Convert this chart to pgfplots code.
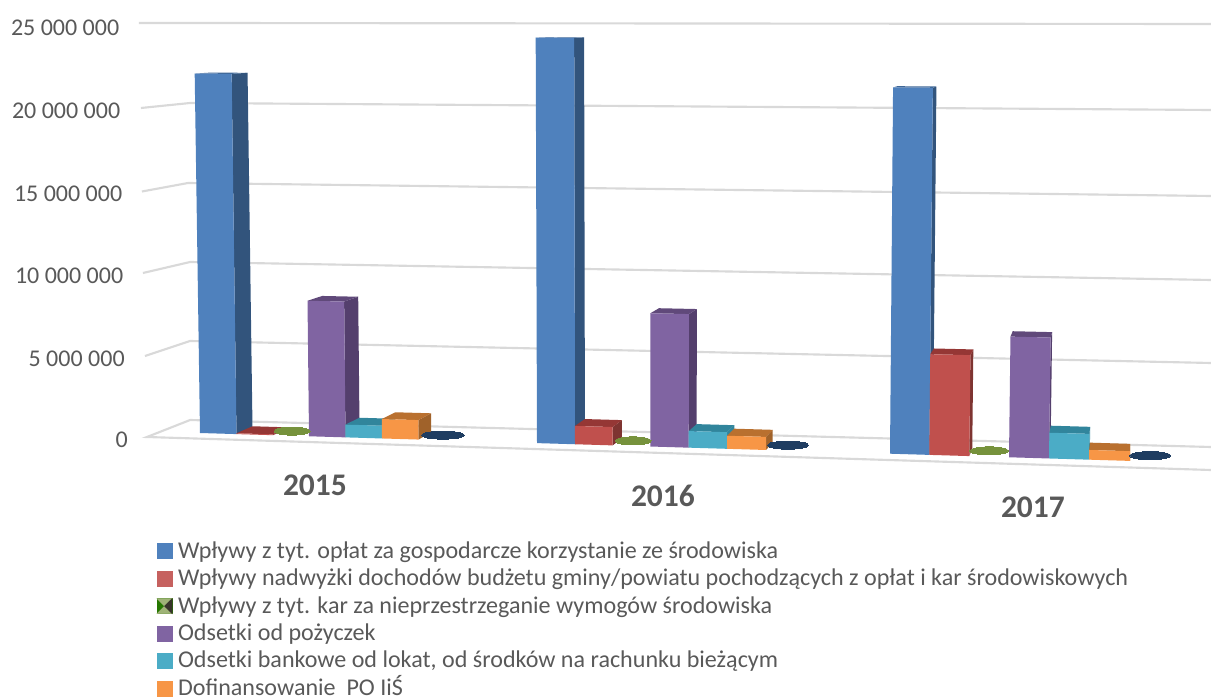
\documentclass[border=0pt]{standalone}
\usepackage{fontspec}
\setmainfont{Carlito}
\usepackage{pgfplots}
\pgfplotsset{compat=1.18}
\definecolor{txt}{HTML}{595959}
\definecolor{gridc}{HTML}{D9D9D9}
\definecolor{blueF}{HTML}{4F81BD}\definecolor{blueS}{HTML}{32547C}\definecolor{blueT}{HTML}{3F6797}
\definecolor{redF}{HTML}{C0504D}\definecolor{redS}{HTML}{7E3431}\definecolor{redT}{HTML}{953735}
\definecolor{greenF}{HTML}{76923C}
\definecolor{purpF}{HTML}{8064A2}\definecolor{purpS}{HTML}{543F6D}\definecolor{purpT}{HTML}{60497A}
\definecolor{cyanF}{HTML}{4BACC6}\definecolor{cyanS}{HTML}{31859C}\definecolor{cyanT}{HTML}{31859C}
\definecolor{orF}{HTML}{F79646}\definecolor{orS}{HTML}{A0622A}\definecolor{orT}{HTML}{B9702F}
\definecolor{navyF}{HTML}{1F3D61}

% picture units: 1 image pixel = 0.75pt; back points lean towards the chart's vanishing point
\newcommand{\cpt}[4]{%
  \pgfmathsetmacro\tx{#1+0.00055*(#1-640)*#3+#2*0.0178*(1130-#1)}%
  \pgfmathsetmacro\td{#3*(16.4+0.00102*(\tx-190)-16.5)+#2*(7.5-0.29*#3)}%
  \edef#4{(\tx,\td,#3)}}
% left edge, width, value in millions, colours of front, side, top
\newcommand{\cbar}[6]{%
  \pgfmathsetmacro\xr{#1+#2}%
  \cpt{#1}{0}{0}\pa \cpt{\xr}{0}{0}\pb \cpt{\xr}{0}{#3}\pc \cpt{#1}{0}{#3}\pd
  \cpt{\xr}{1}{0}\pe \cpt{\xr}{1}{#3}\pf \cpt{#1}{1}{#3}\pg
  \edef\doit{%
    \noexpand\addplot3[fill=#5,draw=none,forget plot] coordinates {\pb \pe \pf \pc};
    \noexpand\addplot3[fill=#6,draw=none,forget plot] coordinates {\pd \pc \pf \pg};
    \noexpand\addplot3[fill=#4,draw=none,forget plot] coordinates {\pa \pb \pc \pd};}%
  \doit}
% bars with next to no value show as flat ellipses
\pgfplotsset{flat/.style 2 args={only marks,mark=*,mark size=1pt,forget plot,color=#2,
  mark options={xscale=#1,yscale=3,line width=0pt,draw=#2,fill=#2}}}
\newcommand{\swatch}[1]{\addlegendimage{legend image code/.code={%
  \fill[#1] (0pt,-4.1pt) rectangle (11.25pt,7.1pt); \path (15.5pt,0pt);}}}

\begin{document}
\begin{tikzpicture}
\useasboundingbox (0,0) rectangle (908.25pt,522.75pt);
\begin{axis}[
  at={(0pt,202.5pt)}, anchor=origin,
  x={(0.75pt,-0.0225pt)}, y={(0.0075pt,0.75pt)}, z={(0pt,12.375pt)},
  xmin=0, xmax=1211, ymin=-10, ymax=40, zmin=0, zmax=25,
  clip=false,
  axis line style={draw=none},
  major tick length=0pt,
  xtick={315,663,1033}, xticklabels={2015,2016,2017},
  ytick=\empty,
  ztick={0,5,10,15,20,25},
  zticklabels={\raisebox{1.5pt}{0}\kern-6.4pt,5 000 000\kern-4.1pt,10 000 000\kern-3pt,15 000 000\kern-2.25pt,20 000 000\kern-.75pt,\raisebox{1.5pt}{25 000 000}},
  every z tick label/.append style={anchor=east,text=txt,xshift=93pt,yshift=-3pt,
    font=\fontsize{18}{20}\selectfont},
  every x tick label/.append style={anchor=center,text=txt,yshift=-29.5pt,
    font=\fontsize{23.6}{26}\selectfont\bfseries},
  legend cell align=left,
  legend style={at={(axis cs:157,-14.5,-5.65)},anchor=north west,draw=none,fill=none,
    inner sep=0pt,outer sep=0pt,text=txt,row sep=0pt,
    font=\fontsize{18.05}{20}\selectfont,
    nodes={inner sep=0pt,text height=14pt,text depth=6.6pt}},
]
% gridlines on the walls and the floor
\addplot3[gridc,line width=1.6pt,forget plot] coordinates {(139,-4.33,25) (190,-2.8,25) (1211,26.83,25)};
\addplot3[gridc,line width=1.6pt,forget plot] coordinates {(141,-6.77,20) (190,-0.3,20) (1211,23.33,20)};
\addplot3[gridc,line width=1.6pt,forget plot] coordinates {(142,-7.74,15) (188,2.14,15) (1211,19.83,15)};
\addplot3[gridc,line width=1.6pt,forget plot] coordinates {(143,-6.71,10) (190,5.7,10) (1211,18.33,10)};
\addplot3[gridc,line width=1.6pt,forget plot] coordinates {(145,-7.15,5) (190,9.2,5) (1211,17.83,5)};
\addplot3[gridc,line width=1.6pt,forget plot] coordinates {(1211,16.33,0) (190,12.7,0) (147,-5.59,0) (1211,-6.67,0)};
% 2015
\cbar{200}{36.5}{21.9}{blueF}{blueS}{blueT}
\cbar{236.5}{36.5}{0.05}{redF}{redT}{redT}
\addplot3[flat={13.5}{greenF}] coordinates {(292,3.8,0.05)};
\cbar{309}{36.5}{8.2}{purpF}{purpS}{purpT}
\cbar{345.5}{36.5}{0.77}{cyanF}{cyanS}{cyanT}
\cbar{382}{36.5}{1.17}{orF}{orS}{orT}
\addplot3[flat={16}{navyF}] coordinates {(443,4.3,0.05)};
% 2016
\cbar{537}{38}{24.2}{blueF}{blueS}{blueT}
\cbar{575}{37.7}{1.09}{redF}{redS}{redT}
\addplot3[flat={13.5}{greenF}] coordinates {(633,4.3,0.05)};
\cbar{650.3}{38.4}{7.9}{purpF}{purpS}{purpT}
\cbar{688.7}{38.3}{0.98}{cyanF}{cyanS}{cyanT}
\cbar{727}{39}{0.77}{orF}{orS}{orT}
\addplot3[flat={15.5}{navyF}] coordinates {(788,4.6,0.05)};
% 2017
\cbar{890}{39.3}{21.4}{blueF}{blueS}{blueT}
\cbar{929.3}{40}{5.87}{redF}{redS}{redT}
\addplot3[flat={14.5}{greenF}] coordinates {(989,5,0.05)};
\cbar{1009}{40}{7.0}{purpF}{purpS}{purpT}
\cbar{1049}{40}{1.49}{cyanF}{cyanS}{cyanT}
\cbar{1089}{41}{0.56}{orF}{orS}{orT}
\addplot3[flat={15.5}{navyF}] coordinates {(1150,5,0.05)};
% legend
\swatch{blueF}\addlegendentry{Wpływy z tyt. opłat za gospodarcze korzystanie ze środowiska}
\swatch{redF!90!white}\addlegendentry{Wpływy nadwyżki dochodów budżetu gminy/powiatu pochodzących z opłat i kar środowiskowych}
\addlegendimage{legend image code/.code={%
  \begin{scope}[yshift=1.5pt]
  \fill[green!45!black!70!olive] (0pt,-5.6pt) rectangle (11.25pt,5.6pt);
  \fill[greenF!70!white] (0pt,5.6pt) -- (5.6pt,0pt) -- (11.25pt,5.6pt) -- cycle;
  \fill[greenF!70!white] (0pt,-5.6pt) -- (5.6pt,0pt) -- (11.25pt,-5.6pt) -- cycle;
  \fill[black!80!olive] (11.25pt,-5.6pt) -- (5.6pt,0pt) -- (11.25pt,5.6pt) -- cycle;
  \end{scope}
  \path (15.5pt,0pt);}}
\addlegendentry{Wpływy z tyt. kar za nieprzestrzeganie wymogów środowiska}
\swatch{purpF}\addlegendentry{Odsetki od pożyczek}
\swatch{cyanF}\addlegendentry{Odsetki bankowe od lokat, od środków na rachunku bieżącym}
\swatch{orF}\addlegendentry{Dofinansowanie~~PO IiŚ}
\end{axis}
\end{tikzpicture}
\end{document}
